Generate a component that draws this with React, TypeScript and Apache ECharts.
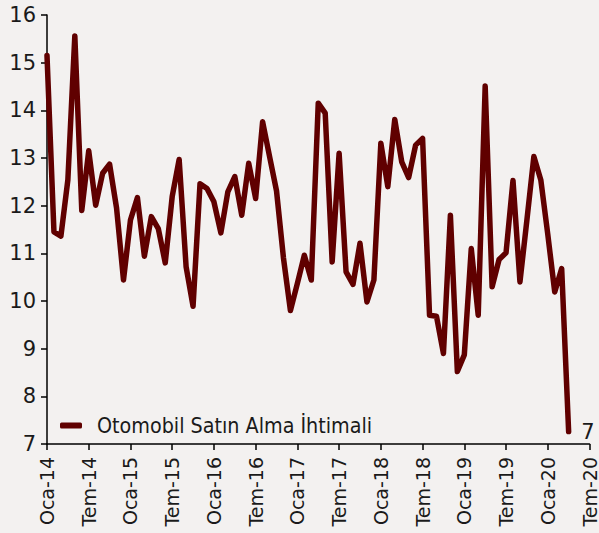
import React, { useEffect, useRef } from "react";
import * as echarts from "echarts";

const monthNames = ["Oca", "Şub", "Mar", "Nis", "May", "Haz", "Tem", "Ağu", "Eyl", "Eki", "Kas", "Ara"];
const startYear = 14;
const monthCount = 79; // Oca-14 .. Tem-20

const categories: string[] = [];
for (let i = 0; i < monthCount; i++) {
  categories.push(`${monthNames[i % 12]}-${startYear + Math.floor(i / 12)}`);
}

const seriesName = "Otomobil Satın Alma İhtimali";

const values: number[] = [
  15.15, 11.45, 11.36, 12.54, 15.56, 11.9, 13.15, 12.01, 12.68, 12.87, 11.95, 10.44,
  11.7, 12.17, 10.94, 11.77, 11.52, 10.8, 12.19, 12.97, 10.72, 9.89, 12.46, 12.36,
  12.08, 11.43, 12.29, 12.61, 11.8, 12.89, 12.15, 13.76, 13.03, 12.31, 10.9, 9.8,
  10.37, 10.96, 10.44, 14.15, 13.94, 10.82, 13.1, 10.61, 10.35, 11.21, 9.98, 10.44,
  13.31, 12.4, 13.81, 12.92, 12.59, 13.27, 13.41, 9.7, 9.68, 8.9, 11.8, 8.52,
  8.87, 11.1, 9.7, 14.51, 10.3, 10.87, 11.01, 12.53, 10.4, 11.7, 13.03, 12.54,
  11.4, 10.19, 10.68, 7.26,
];

const yMin = 7;
const yMax = 16;
const yInterval = 1;

export default function App() {
  const ref = useRef<HTMLDivElement>(null);
  useEffect(() => {
    if (!ref.current) return;
    const chart = echarts.init(ref.current, undefined, { renderer: "svg" });
    const lastIdx = values.length - 1;
    const data = values.map((v, i) =>
      i === lastIdx
        ? {
            value: v,
            label: {
              show: true,
              position: "right",
              distance: 12,
              formatter: (p: any) => String(Math.round(p.value)),
              color: "#1a1a1a",
              fontSize: 21,
              fontFamily: "'DejaVu Sans', sans-serif",
            },
          }
        : v
    );
    chart.setOption({
      animation: false,
      backgroundColor: "#F3F1F0",
      grid: { left: 47, right: 9, top: 15, bottom: 89, containLabel: false },
      legend: {
        left: 55,
        top: 410,
        icon: "roundRect",
        itemWidth: 22,
        itemHeight: 6,
        data: [seriesName],
        textStyle: {
          color: "#1a1a1a",
          fontSize: 21.3,
          fontFamily: "'DejaVu Sans Condensed', 'DejaVu Sans', sans-serif",
          padding: [0, 0, 0, 10],
        },
      },
      xAxis: {
        type: "category",
        data: categories,
        boundaryGap: false,
        axisLine: { show: true, lineStyle: { color: "#000", width: 1.5 } },
        axisTick: { show: true, interval: 5, length: 6, lineStyle: { color: "#000", width: 1.5 } },
        axisLabel: {
          interval: 5,
          rotate: 90,
          margin: 13,
          color: "#1a1a1a",
          fontSize: 19,
          fontFamily: "'DejaVu Sans', sans-serif",
        },
        splitLine: { show: false },
      },
      yAxis: {
        type: "value",
        min: yMin,
        max: yMax,
        interval: yInterval,
        axisLine: { show: true, lineStyle: { color: "#000", width: 1.5 } },
        axisTick: { show: true, length: 6, lineStyle: { color: "#000", width: 1.5 } },
        axisLabel: {
          margin: 11,
          color: "#1a1a1a",
          fontSize: 21,
          fontFamily: "'DejaVu Sans', sans-serif",
        },
        splitLine: { show: false },
      },
      series: [
        {
          name: seriesName,
          type: "line",
          data,
          symbol: "circle",
          symbolSize: 1,
          showSymbol: true,
          showAllSymbol: true,
          lineStyle: { color: "#600000", width: 5.5, join: "round", cap: "round" },
          itemStyle: { color: "#600000" },
        },
      ],
    });
    return () => chart.dispose();
  }, []);
  return (
    <div
      ref={ref}
      style={{ position: "absolute", left: 0, top: 0, width: 599, height: 533 }}
    />
  );
}
